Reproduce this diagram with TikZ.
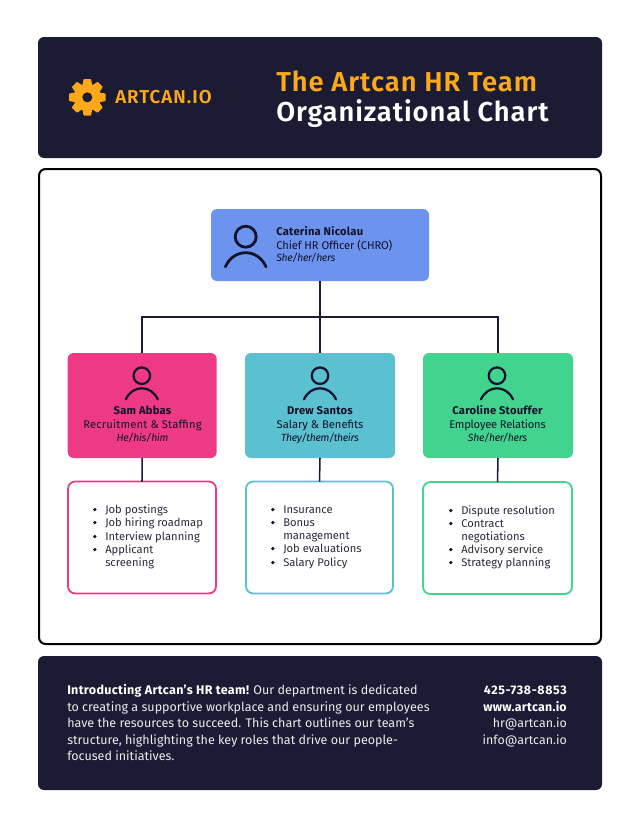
\documentclass[tikz,border=0pt]{standalone}
\usepackage{fontspec}
\setmainfont{Fira Sans}
\newfontfamily\semi{Fira Sans SemiBold}
\usetikzlibrary{calc}
\definecolor{navy}{HTML}{1B1C33}
\definecolor{amber}{HTML}{FBA81B}
\definecolor{cblue}{HTML}{6C94EE}
\definecolor{cpink}{HTML}{EE3A84}
\definecolor{cteal}{HTML}{5BC0D0}
\definecolor{cgreen}{HTML}{42D48F}
\definecolor{ink}{HTML}{12122A}
\definecolor{listink}{HTML}{2A2A3C}
\definecolor{softwhite}{HTML}{ECECF0}
\newcommand{\fs}[1]{\fontsize{#1}{#1}\selectfont}
\newcommand{\ls}[1]{\addfontfeatures{LetterSpace=#1}}
\newcommand{\apos}{\char"0027\relax}
\tikzset{
  x=0.75pt,y=-0.75pt,
  panel/.style={fill=navy,draw=none,rounded corners=4.5pt},
  txt/.style={inner sep=0pt,text=ink,anchor=base},
  txtl/.style={inner sep=0pt,anchor=base west,text=ink},
  namefont/.style={font=\fs{8.4}\bfseries\ls{2}},
  rolefont/.style={font=\fs{8.4}},
  pronfont/.style={font=\fs{7.8}\itshape\ls{-3}},
  foot/.style={inner sep=0pt,anchor=base west,text=softwhite,font=\fs{9.4}},
  footr/.style={inner sep=0pt,anchor=base east,text=softwhite,font=\fs{9.3}},
  link/.style={draw=navy,line width=1.15pt},
  listbox/.style={draw,fill=white,line width=1.35pt,rounded corners=5.5pt,inner sep=0pt,outer sep=0pt,anchor=north west},
  cardnode/.style={fill=#1,rounded corners=4.5pt,inner sep=0pt,outer sep=0pt,anchor=north west},
  bullet/.style={circle,fill=ink,inner sep=0pt,minimum size=2.7pt},
  litem/.style={inner sep=0pt,anchor=base west,text=listink,font=\fs{8.4}},
}
\newcommand{\person}[3]{% cx, head cy, scale
  \draw[draw=ink,line width=#3*1.65pt,line cap=round] (#1,#2) circle[radius=#3*6.2pt];
  \draw[draw=ink,line width=#3*1.65pt,line cap=round] ({#1-16*#3},{#2+23.7*#3}) .. controls ({#1-9.5*#3},{#2+8.9*#3}) and ({#1+9.5*#3},{#2+8.9*#3}) .. ({#1+16*#3},{#2+23.7*#3});
}
\newcommand{\li}[4]{% name,x,y,text
  \node[bullet] (b#1) at (#2+2.8,#3-3.5) {};
  \node[litem] (t#1) at (#2+13,#3) {#4};
}
\begin{document}
\begin{tikzpicture}
\useasboundingbox (0,0) rectangle (640,828);
\fill[white] (0,0) rectangle (640,828);
% header
\fill[panel] (38,37) rectangle (602,158);
% gear
\filldraw[amber,line width=1.1pt,line join=round] ({87.3+17.8*cos(-10)},{97.3+17.8*sin(-10)})
  \foreach \a in {0,45,...,315} {
    -- ({87.3+17.8*cos(\a-10)},{97.3+17.8*sin(\a-10)})
    -- ({87.3+17.8*cos(\a+10)},{97.3+17.8*sin(\a+10)})
    -- ({87.3+12.8*cos(\a+19)},{97.3+12.8*sin(\a+19)})
    -- ({87.3+12.8*cos(\a+26)},{97.3+12.8*sin(\a+26)})
  } -- cycle;
\fill[navy] (87.3,97.3) circle[radius=3.75pt];
\node[txtl,text=amber,font=\fs{14}\semi\ls{5.5}] (logo) at (115,103) {ARTCAN.IO};
\node[txtl,text=amber,font=\fs{20.5}\semi\ls{3.6}] (title1) at (276,91) {The Artcan HR Team};
\node[txtl,text=white,font=\fs{20.5}\semi\ls{3.4}] (title2) at (276,121) {Organizational Chart};
% frame
\draw[black,line width=1.5pt,rounded corners=5pt] (39,169) rectangle (601,644);
% nodes
\coordinate (junction) at (320,317);
\node[cardnode=cblue,minimum width=163.5pt,minimum height=54pt] (chief) at (211,209) {};
\node[cardnode=cpink,minimum width=111.75pt,minimum height=78.75pt] (sam) at (67.7,353) {};
\node[cardnode=cteal,minimum width=112.5pt,minimum height=78.75pt] (drew) at (245,353) {};
\node[cardnode=cgreen,minimum width=112.5pt,minimum height=78.75pt] (caro) at (423,353) {};
\node[listbox,draw=cpink,minimum width=111pt,minimum height=84pt] (samlist) at (68,481.5) {};
\node[listbox,draw=cteal,minimum width=110.25pt,minimum height=84pt] (drewlist) at (246,481.5) {};
\node[listbox,draw=cgreen,minimum width=111.75pt,minimum height=84pt] (carolist) at (423,482) {};
% connectors
\draw[link] (chief.south) -- (junction);
\draw[link] (sam.north) |- (junction) -| (caro.north);
\draw[link] (junction) -- (drew.north);
\draw[link] (sam.south) -- (samlist.north);
\draw[link] (drew.south) -- (drewlist.north);
\draw[link] (caro.south) -- (carolist.north);
% chief
\person{245.7}{236.7}{1.27}
\node[txtl,namefont] (n0) at (276,235) {Caterina Nicolau};
\node[txtl,font=\fs{8.4}\ls{-1}] (r0) at (276,249) {Chief HR Officer (CHRO)};
\node[txtl,pronfont] (p0) at (276,261) {She/her/hers};
% sam
\person{141.8}{375.7}{1}
\node[txt,namefont] (n1) at (142.5,414) {Sam Abbas};
\node[txt,font=\fs{8.4}\ls{1.5}] (r1) at (142.5,428) {Recruitment \& Staffing};
\node[txt,pronfont] (p1) at (142.5,441) {He/his/him};
% drew
\person{320}{375.7}{1}
\node[txt,namefont] (n2) at (320,414) {Drew Santos};
\node[txt,rolefont] (r2) at (320,428) {Salary \& Benefits};
\node[txt,pronfont] (p2) at (320,441) {They/them/theirs};
% caro
\person{497}{375.7}{1}
\node[txt,namefont] (n3) at (497.5,414) {Caroline Stouffer};
\node[txt,font=\fs{8.4}\ls{-2}] (r3) at (497.5,428) {Employee Relations};
\node[txt,pronfont] (p3) at (497.5,441) {She/her/hers};
% lists
\li{a1}{92}{513}{Job postings}
\li{a2}{92}{526}{Job hiring roadmap}
\li{a3}{92}{540}{Interview planning}
\li{a4}{92}{553}{Applicant}
\node[litem] (a4b) at (105,566) {screening};
\li{b1}{270}{513}{Insurance}
\li{b2}{270}{526}{Bonus}
\node[litem] (b2b) at (283,539) {management};
\li{b3}{270}{552}{Job evaluations}
\li{b4}{270}{566}{Salary Policy}
\li{c1}{448}{514}{Dispute resolution}
\li{c2}{448}{527}{Contract}
\node[litem] (c2b) at (461,540) {negotiations};
\li{c3}{448}{553}{Advisory service}
\li{c4}{448}{566}{Strategy planning}
% footer
\fill[panel] (38,656) rectangle (602,790);
\node[foot] (f1) at (67,694) {{\color{white}\bfseries\ls{2.5}Introducting Artcan\apos s HR team!} Our department is dedicated};
\node[foot] (f2) at (67,711) {to creating a supportive workplace and ensuring our employees};
\node[foot] (f3) at (67,727) {have the resources to succeed. This chart outlines our team\apos s};
\node[foot] (f4) at (67,744) {structure, highlighting the key roles that drive our people-};
\node[foot] (f5) at (67,760) {focused initiatives.};
\node[footr,text=white,font=\fs{9.3}\bfseries\ls{5}] (c1) at (567,694) {425-738-8853};
\node[footr,text=white,font=\fs{9.3}\bfseries\ls{2}] (c2) at (567,711) {www.artcan.io};
\node[footr] (c3) at (567,727) {hr@artcan.io};
\node[footr] (c4) at (567,744) {info@artcan.io};
\end{tikzpicture}
\end{document}
